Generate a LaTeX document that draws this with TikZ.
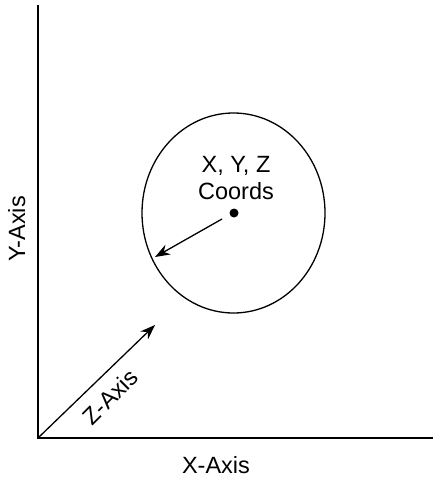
\documentclass[tikz,border=0pt]{standalone}
\usepackage{fontspec}
\setmainfont{Liberation Sans}
\usetikzlibrary{arrows.meta,shapes.geometric}
\begin{document}
\begin{tikzpicture}[x=1pt,y=-1pt,
  lbl/.style={font=\fontsize{23.5}{28}\selectfont, inner sep=0pt},
  axis/.style={line width=1.4pt},
  arr/.style={line width=1.3pt, -{Stealth[length=15pt,width=11pt]}}]
\useasboundingbox (0,0) rectangle (435,479);
\coordinate (O) at (38,438);
\coordinate (Ytop) at (38,5);
\coordinate (Xend) at (433,438);
\coordinate (Ztip) at (155,325);
\draw[axis] (Ytop) -- (O) -- (Xend);
\draw[arr] (O) -- (Ztip);
\node[ellipse, draw, line width=1.3pt, minimum width=183pt, minimum height=200pt, inner sep=0pt] (circ) at (233.5,213) {};
\node[circle, fill, inner sep=0pt, minimum size=9pt] (dot) at (234,213) {};
\coordinate (astart) at (222,219);
\coordinate (aend) at (155,257);
\draw[arr] (astart) -- (aend);
\node[lbl, anchor=base] (xyz) at (236,172) {X, Y, Z};
\node[lbl, anchor=base] (coords) at (236,199) {Coords};
\node[lbl, anchor=base] (xlab) at (216,473) {X-Axis};
\node[lbl, anchor=base, rotate=90] (ylab) at (25,229) {Y-Axis};
\node[lbl, rotate=45] (zlab) at (110,397) {Z-Axis};
\end{tikzpicture}
\end{document}
